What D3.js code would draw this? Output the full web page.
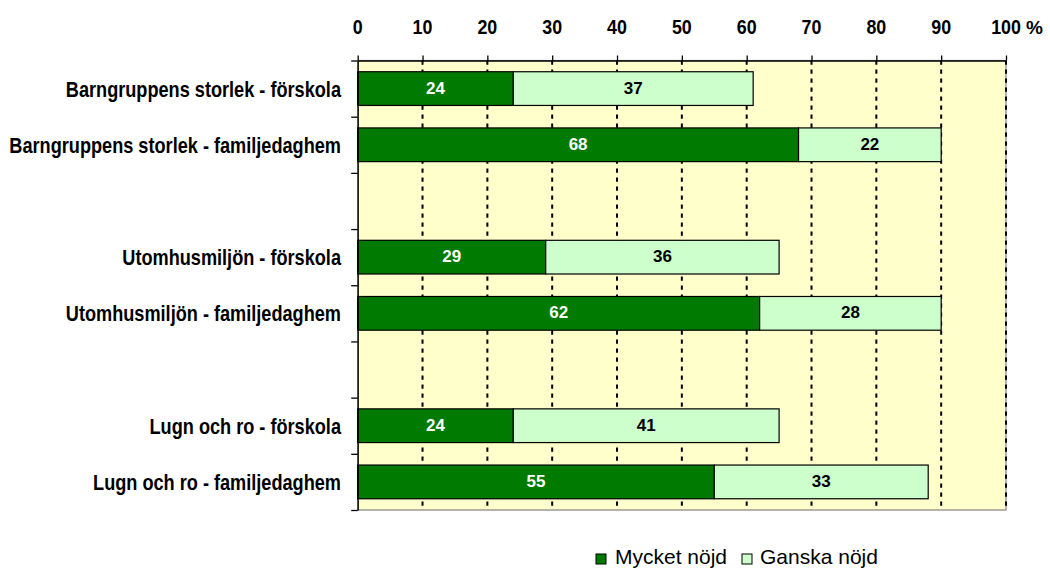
<!DOCTYPE html>
<html>
<head>
<meta charset="utf-8">
<script src="https://cdn.jsdelivr.net/npm/d3@7"></script>
<style>
  html, body { margin: 0; padding: 0; background: #ffffff; }
  svg { display: block; }
</style>
</head>
<body>
<svg id="chart" width="1050" height="569"></svg>
<script>
// ---- data ----
const categories = [
  "Barngruppens storlek - förskola",
  "Barngruppens storlek - familjedaghem",
  "",
  "Utomhusmiljön - förskola",
  "Utomhusmiljön - familjedaghem",
  "",
  "Lugn och ro - förskola",
  "Lugn och ro - familjedaghem"
];
const mycketNojd = [24, 68, null, 29, 62, null, 24, 55];
const ganskaNojd = [37, 22, null, 36, 28, null, 41, 33];
const seriesNames = ["Mycket nöjd", "Ganska nöjd"];
const xTicks = [0, 10, 20, 30, 40, 50, 60, 70, 80, 90, 100];
const xUnit = "%";

// ---- layout ----
const W = 1050, H = 569;
const plot = { left: 357.7, right: 1006, top: 60.5, bottom: 510 };
const colors = { dark: "#007A00", light: "#CCFFCC", bg: "#FFFFCC" };

const svg = d3.select("#chart");
svg.append("rect").attr("width", W).attr("height", H).attr("fill", "#fff");

const narrowFam = "'Liberation Sans Narrow', 'Arial Narrow', sans-serif";
const regFam = "'Liberation Sans', Arial, sans-serif";

function measure(fam, weight) {
  const t = svg.append("text").attr("x", -999).attr("y", -999)
    .style("font-family", fam).style("font-weight", weight).style("font-size", "20px")
    .text("Barngruppens storlek 0123456789");
  const w = t.node().getComputedTextLength();
  t.remove();
  return w;
}
const wNarrow = measure("'Liberation Sans Narrow', 'Arial Narrow', 'Liberation Sans'", "bold");
const wReg = measure("'Liberation Sans'", "bold");
const hasNarrow = wNarrow < wReg * 0.95;
const narrowFamily = hasNarrow ? narrowFam : regFam;
const catScale = hasNarrow ? 1 : 0.825;
const tickScale = hasNarrow ? 1 : 0.85;

const x = d3.scaleLinear().domain([0, 100]).range([plot.left, plot.right]);
const idx = d3.range(categories.length);
const y = d3.scaleBand().domain(idx).range([plot.top, plot.bottom])
  .paddingInner(0.4).paddingOuter(0.2);
const yEdge = d3.scaleLinear().domain([0, categories.length]).range([plot.top, plot.bottom]);

// plot background
svg.append("rect")
  .attr("x", plot.left).attr("y", plot.top)
  .attr("width", plot.right - plot.left).attr("height", plot.bottom - plot.top)
  .attr("fill", colors.bg).attr("stroke", "#808080").attr("stroke-width", 1.2);

// gridlines
svg.append("g").selectAll("line")
  .data(xTicks.filter(d => d > 0))
  .join("line")
  .attr("x1", d => x(d)).attr("x2", d => x(d))
  .attr("y1", plot.top).attr("y2", plot.bottom)
  .attr("stroke", "#000").attr("stroke-width", 2)
  .attr("stroke-dasharray", "4.3,4.7");

// bars
const rows = idx.filter(i => mycketNojd[i] != null).map(i => ({
  i, a: mycketNojd[i], b: ganskaNojd[i]
}));
const barG = svg.append("g");
rows.forEach(r => {
  barG.append("rect")
    .attr("x", x(0)).attr("y", y(r.i))
    .attr("width", x(r.a) - x(0)).attr("height", y.bandwidth())
    .attr("fill", colors.dark).attr("stroke", "#000").attr("stroke-width", 1.2);
  barG.append("rect")
    .attr("x", x(r.a)).attr("y", y(r.i))
    .attr("width", x(r.a + r.b) - x(r.a)).attr("height", y.bandwidth())
    .attr("fill", colors.light).attr("stroke", "#000").attr("stroke-width", 1.2);
  const cy = y(r.i) + y.bandwidth() / 2;
  barG.append("text")
    .attr("x", x(r.a / 2)).attr("y", cy + 5)
    .attr("text-anchor", "middle")
    .style("font-family", regFam).style("font-weight", "bold").style("font-size", "17px")
    .attr("fill", "#fff").text(r.a);
  barG.append("text")
    .attr("x", x(r.a + r.b / 2)).attr("y", cy + 5)
    .attr("text-anchor", "middle")
    .style("font-family", regFam).style("font-weight", "bold").style("font-size", "17px")
    .attr("fill", "#000").text(r.b);
});

// top axis
const xAxis = d3.axisTop(x).tickValues(xTicks).tickSize(5).tickSizeOuter(0).tickFormat("");
const gx = svg.append("g").attr("transform", `translate(0,${plot.top})`).call(xAxis);
gx.select(".domain").attr("stroke", "#000").attr("stroke-width", 1.3);
gx.selectAll(".tick line").attr("stroke", "#000").attr("stroke-width", 1.3);

// top tick labels
const tl = svg.append("g");
xTicks.forEach(t => {
  tl.append("text")
    .attr("transform", `translate(${x(t)},34) scale(${tickScale},1)`)
    .attr("text-anchor", "middle")
    .style("font-family", narrowFamily).style("font-weight", "bold").style("font-size", "21px")
    .attr("fill", "#000").text(t);
});
tl.append("text")
  .attr("x", x(100) + 20).attr("y", 34)
  .style("font-family", regFam).style("font-weight", "bold").style("font-size", "19px")
  .attr("fill", "#000").text(xUnit);

// left axis (ticks at band edges)
const yAxis = d3.axisLeft(yEdge).tickValues(d3.range(0, categories.length + 1))
  .tickSize(6.5).tickSizeOuter(0).tickFormat("");
const gy = svg.append("g").attr("transform", `translate(${plot.left},0)`).call(yAxis);
gy.select(".domain").attr("stroke", "#000").attr("stroke-width", 1.3);
gy.selectAll(".tick line").attr("stroke", "#000").attr("stroke-width", 1.3);

// category labels
const cl = svg.append("g");
idx.forEach(i => {
  if (!categories[i]) return;
  const cy = y(i) + y.bandwidth() / 2;
  cl.append("text")
    .attr("transform", `translate(341,${cy + 8}) scale(${catScale},1)`)
    .attr("text-anchor", "end")
    .style("font-family", narrowFamily).style("font-weight", "bold").style("font-size", "22px")
    .attr("fill", "#000").text(categories[i]);
});

// legend
const legend = svg.append("g");
const legendItems = [
  { name: seriesNames[0], color: colors.dark, sx: 596, tx: 615 },
  { name: seriesNames[1], color: colors.light, sx: 742, tx: 760 }
];
legendItems.forEach(l => {
  legend.append("rect").attr("x", l.sx).attr("y", 554).attr("width", 10).attr("height", 10)
    .attr("fill", l.color).attr("stroke", "#000").attr("stroke-width", 1);
  legend.append("text").attr("x", l.tx).attr("y", 563.5)
    .style("font-family", regFam).style("font-size", "21px").attr("fill", "#000").text(l.name);
});
</script>
</body>
</html>
